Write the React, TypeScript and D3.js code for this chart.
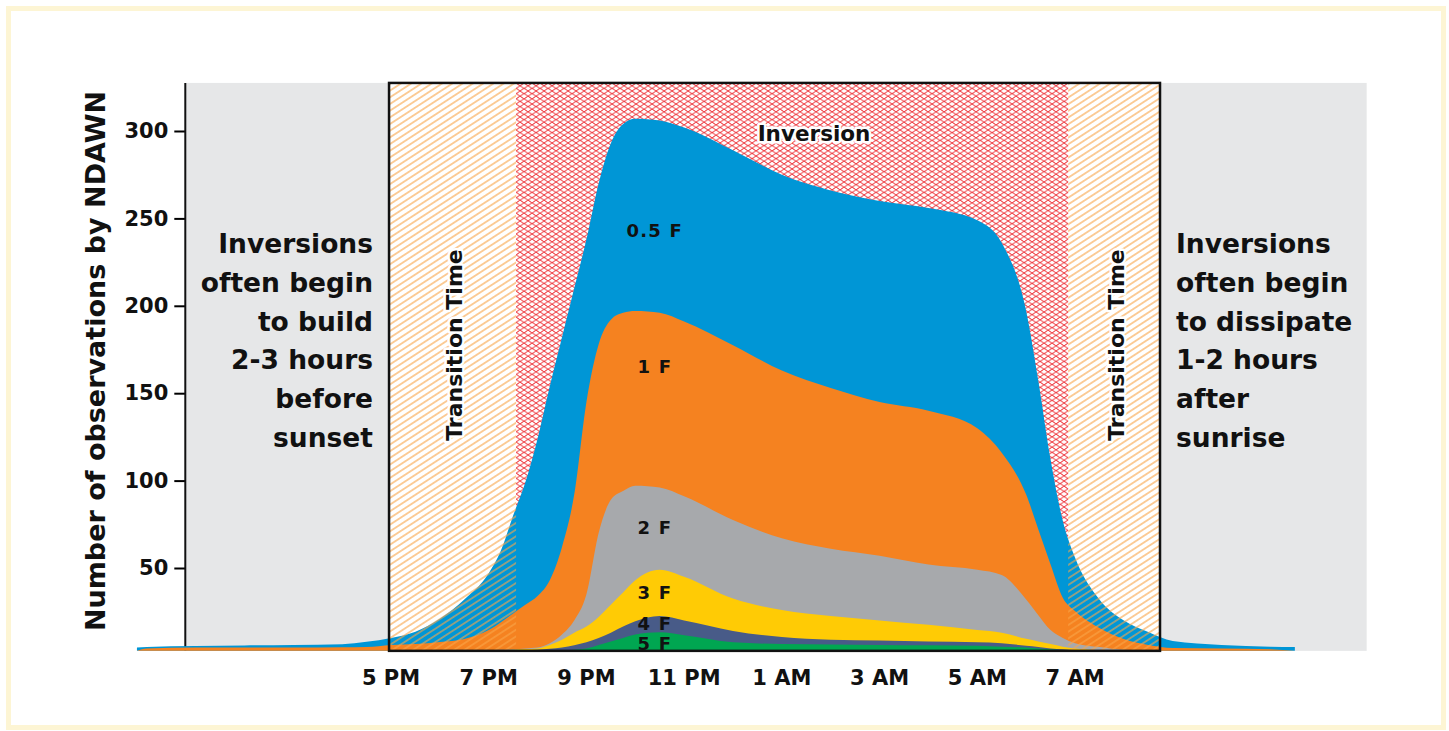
import { useEffect, useRef } from "react";
import * as d3 from "d3";

// hours after noon (5 = 5 PM, 19 = 7 AM next day)
const hours = [
  -0.2, 0, 1, 2, 3, 4, 4.5, 5, 5.5, 6, 6.5,
  7, 7.25, 7.5, 7.75, 8, 8.25, 8.5, 8.75, 9, 9.25,
  9.5, 9.75, 10, 10.5, 11, 12, 13, 14, 15, 16,
  17, 17.5, 18, 18.25, 18.5, 18.75, 19, 19.5, 20, 20.5,
  21, 22, 23, 23.5,
];

// observations, one array per inversion strength
const f05 = [
  4.5, 4.8, 5.4, 5.7, 6, 6.4, 7.8, 10, 13.6, 21, 32,
  47, 60, 80, 99, 124, 154, 182, 210, 238, 270,
  293, 304, 307, 306, 302, 289, 275, 266, 260, 256,
  249, 236, 197, 157, 112, 77, 56, 32, 20, 13.4,
  8.2, 6, 5, 4.8,
];
const f1 = [
  2.6, 4, 4.5, 4.5, 4.5, 4.6, 4.8, 6, 6.5, 7.7, 9.4,
  14.5, 19, 24, 29, 34, 43, 62, 92, 145, 178,
  192, 196, 197, 196, 191, 177.5, 163, 153, 145, 140,
  130, 116, 92, 72, 52, 33, 25.4, 15.7, 9.4, 6,
  4.2, 4, 3.5, 2.6,
];
const f2 = [
  2.6, 2.6, 2.6, 2.6, 2.6, 2.6, 2.6, 2.6, 2.6, 2.6, 2.6,
  3, 3.2, 3.5, 4, 4.5, 7, 12, 20, 35, 70,
  89, 94, 97, 96, 91, 77.5, 67, 61, 57, 52,
  49, 46, 32, 23, 14.5, 10, 7, 4.8, 3.2, 2.8,
  2.6, 2.6, 2.6, 2.6,
];
const f3 = [
  2.6, 2.6, 2.6, 2.6, 2.6, 2.6, 2.6, 2.6, 2.6, 2.6, 2.6,
  2.8, 3, 3.2, 3.6, 4, 6, 9, 13, 16.5, 22,
  29, 36, 43, 49, 45, 32.5, 26, 22.5, 20, 17.5,
  14.5, 13, 9.5, 8, 6.5, 5, 4, 3, 2.6, 2.6,
  2.6, 2.6, 2.6, 2.6,
];
const f4 = [
  2.6, 2.6, 2.6, 2.6, 2.6, 2.6, 2.6, 2.6, 2.6, 2.6, 2.6,
  2.6, 2.7, 2.8, 3, 3.3, 3.8, 4.5, 5.8, 7.5, 10,
  13, 16.5, 19.5, 22.5, 20, 14, 10.5, 9, 8.5, 8,
  7.5, 7, 5.5, 4.8, 4, 3.5, 3, 2.7, 2.6, 2.6,
  2.6, 2.6, 2.6, 2.6,
];
const f5 = [
  2.6, 2.6, 2.6, 2.6, 2.6, 2.6, 2.6, 2.6, 2.6, 2.6, 2.6,
  2.6, 2.6, 2.6, 2.6, 2.6, 2.6, 2.8, 3.2, 4, 6,
  8, 10, 12, 13.2, 11.5, 7.5, 6.5, 6.2, 6, 5.8,
  5.5, 5, 4.5, 4, 3.5, 3, 2.8, 2.6, 2.6, 2.6,
  2.6, 2.6, 2.6, 2.6,
];

const seriesValues = [f05, f1, f2, f3, f4, f5];
const seriesNames = ["0.5 F", "1 F", "2 F", "3 F", "4 F", "5 F"];
const seriesColors = ["#0096d6", "#f58220", "#a7a9ac", "#ffcb05", "#485b88", "#00a651"];
const labelValues = [243, 165, 73, 36, 18, 7];

const xTicks = [5, 7, 9, 11, 13, 15, 17, 19];
const xTickLabels = ["5 PM", "7 PM", "9 PM", "11 PM", "1 AM", "3 AM", "5 AM", "7 AM"];
const yTicks = [50, 100, 150, 200, 250, 300];

// time spans in hours after noon
const panelSpan = [0.8, 24.97];
const boxSpan = [4.96, 20.74];
const inversionSpan = [7.56, 18.86];

const leftNote = ["Inversions", "often begin", "to build", "2-3 hours", "before", "sunset"];
const rightNote = ["Inversions", "often begin", "to dissipate", "1-2 hours", "after", "sunrise"];

const W = 1449, H = 731;
const FONT = "'DejaVu Sans', sans-serif";
const BASE = 2.6;

export default function App() {
  const ref = useRef<SVGSVGElement>(null);

  useEffect(() => {
    const svg = d3.select(ref.current);
    svg.selectAll("*").remove();

    const x = d3.scaleLinear().domain([5, 19]).range([391, 1075]);
    const y = d3.scaleLinear().domain([0, 327]).range([655.4, 83.8]);
    const yTop = y(327.5), yBot = y(BASE);

    const defs = svg.append("defs");
    const diag = defs.append("pattern").attr("id", "diag")
      .attr("patternUnits", "userSpaceOnUse").attr("width", 10).attr("height", 5.6)
      .attr("patternTransform", "rotate(-33)");
    diag.append("line").attr("x1", 0).attr("x2", 10).attr("y1", 2.8).attr("y2", 2.8)
      .attr("stroke", "#f8a448").attr("stroke-width", 1.1);
    const mesh = defs.append("pattern").attr("id", "mesh")
      .attr("patternUnits", "userSpaceOnUse").attr("width", 8).attr("height", 5.2)
      .attr("x", x(inversionSpan[0]));
    mesh.append("path").attr("d", "M0,0L8,5.2M0,5.2L8,0")
      .attr("stroke", "#ec2229").attr("stroke-width", 0.9).attr("fill", "none");

    // outer frame
    svg.append("rect").attr("x", 8.5).attr("y", 8.5).attr("width", W - 14).attr("height", H - 12)
      .attr("fill", "white").attr("stroke", "#fdf5d4").attr("stroke-width", 5);

    // gray panels outside the box
    svg.append("rect").attr("x", x(panelSpan[0])).attr("y", yTop)
      .attr("width", x(boxSpan[0]) - x(panelSpan[0])).attr("height", yBot - yTop).attr("fill", "#e6e7e8");
    svg.append("rect").attr("x", x(boxSpan[1])).attr("y", yTop)
      .attr("width", x(panelSpan[1]) - x(boxSpan[1])).attr("height", yBot - yTop).attr("fill", "#e6e7e8");

    // inversion mesh
    svg.append("rect").attr("x", x(inversionSpan[0])).attr("y", yTop)
      .attr("width", x(inversionSpan[1]) - x(inversionSpan[0])).attr("height", yBot - yTop)
      .attr("fill", "url(#mesh)");

    // y axis
    const ax = x(panelSpan[0]) - 0.5;
    const yAxis = svg.append("g").attr("transform", `translate(${ax},0)`)
      .call(d3.axisLeft(y).tickValues(yTicks).tickSize(11).tickSizeOuter(0).tickPadding(6));
    yAxis.select(".domain").remove();
    yAxis.selectAll(".tick line").attr("stroke-width", 2);
    yAxis.selectAll(".tick text").attr("font-family", FONT).attr("font-weight", "bold")
      .attr("font-size", 21).attr("fill", "#111");
    svg.append("line").attr("x1", ax).attr("x2", ax).attr("y1", yTop).attr("y2", yBot)
      .attr("stroke", "#111").attr("stroke-width", 2);

    // areas
    const rows = hours.map((h, i) => ({ h, i }));
    seriesValues.forEach((vals, k) => {
      const area = d3.area<{ h: number; i: number }>()
        .x((d) => x(d.h))
        .y0(yBot)
        .y1((d) => y(vals[d.i]))
        .curve(d3.curveMonotoneX);
      svg.append("path").datum(rows).attr("d", area).attr("fill", seriesColors[k]);
    });

    // transition hatching
    [[boxSpan[0], inversionSpan[0]], [inversionSpan[1], boxSpan[1]]].forEach(([a, b]) => {
      svg.append("rect").attr("x", x(a)).attr("y", yTop).attr("width", x(b) - x(a))
        .attr("height", yBot - yTop).attr("fill", "url(#diag)");
    });

    // box
    svg.append("rect").attr("x", x(boxSpan[0])).attr("y", yTop)
      .attr("width", x(boxSpan[1]) - x(boxSpan[0])).attr("height", yBot - yTop)
      .attr("fill", "none").attr("stroke", "#111").attr("stroke-width", 2.5);

    // x tick labels
    svg.append("g").selectAll("text").data(xTicks).join("text")
      .attr("x", (d) => x(d)).attr("y", 685).attr("text-anchor", "middle")
      .attr("font-family", FONT).attr("font-weight", "bold").attr("font-size", 21).attr("fill", "#111")
      .text((d, i) => xTickLabels[i]);

    // series labels
    svg.append("g").selectAll("text").data(seriesNames).join("text")
      .attr("x", x(10.4)).attr("y", (d, i) => y(labelValues[i]))
      .attr("dy", "0.36em").attr("text-anchor", "middle")
      .attr("font-family", FONT).attr("font-weight", "bold").attr("font-size", 18)
      .attr("letter-spacing", 1.2).attr("fill", "#111")
      .text((d) => d);

    const halo = (t: any) => t.attr("stroke", "white").attr("stroke-width", 5)
      .attr("paint-order", "stroke").attr("stroke-linejoin", "round");

    svg.append("text").attr("x", 814).attr("y", 141).attr("text-anchor", "middle")
      .attr("font-family", FONT).attr("font-weight", "bold").attr("font-size", 21.5).attr("fill", "#111")
      .text("Inversion").call(halo);

    [462, 1124].forEach((bx) => {
      svg.append("text").attr("transform", `translate(${bx},345) rotate(-90)`)
        .attr("text-anchor", "middle").attr("font-family", FONT).attr("font-weight", "bold")
        .attr("font-size", 22).attr("fill", "#111").text("Transition Time").call(halo);
    });

    // side notes
    leftNote.forEach((t, i) => {
      svg.append("text").attr("x", 373).attr("y", 253 + i * 38.8).attr("text-anchor", "end")
        .attr("font-family", FONT).attr("font-weight", "bold").attr("font-size", 26.5)
        .attr("fill", "#111").text(t);
    });
    rightNote.forEach((t, i) => {
      svg.append("text").attr("x", 1176).attr("y", 253 + i * 38.8)
        .attr("font-family", FONT).attr("font-weight", "bold").attr("font-size", 26.5)
        .attr("fill", "#111").text(t);
    });

    // y axis title
    svg.append("text").attr("transform", "translate(105,361) rotate(-90)")
      .attr("text-anchor", "middle").attr("font-family", FONT).attr("font-weight", "bold")
      .attr("font-size", 27).attr("fill", "#111").text("Number of observations by NDAWN");
  }, []);

  return <svg ref={ref} width={W} height={H} style={{ position: "absolute", left: 0, top: 0 }} />;
}
